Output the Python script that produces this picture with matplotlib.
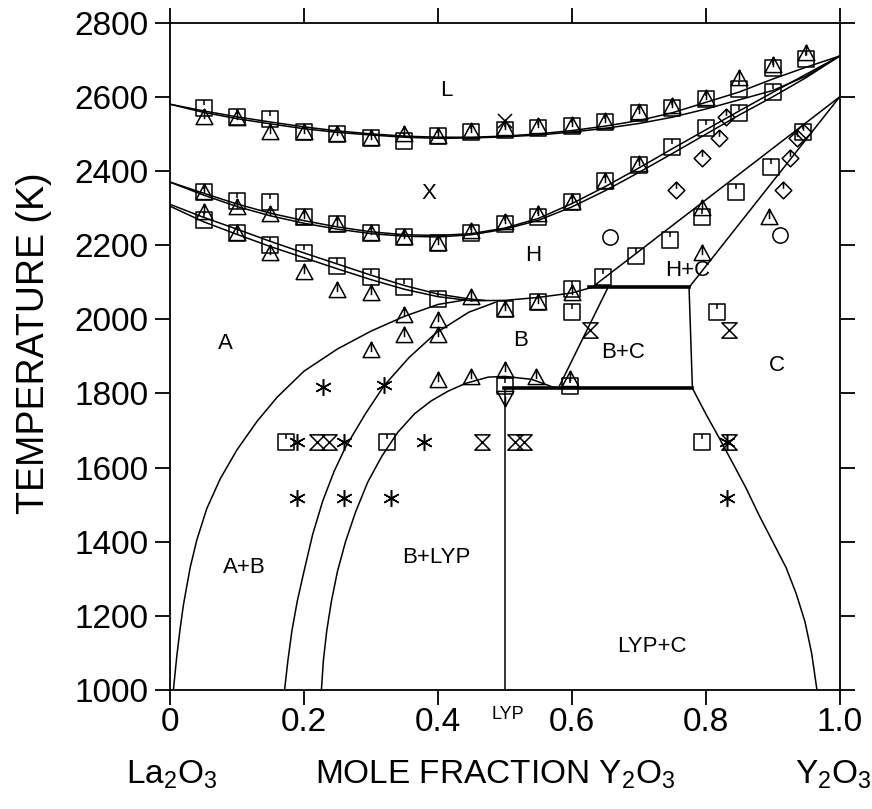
import matplotlib
matplotlib.use("Agg")
import matplotlib.pyplot as plt
from matplotlib.path import Path

plt.rcParams['font.family'] = ['Liberation Sans', 'DejaVu Sans']
plt.rcParams['mathtext.fontset'] = 'custom'
plt.rcParams['mathtext.rm'] = 'Liberation Sans'
plt.rcParams['mathtext.it'] = 'Liberation Sans'
plt.rcParams['mathtext.default'] = 'regular'

# ---- phase boundaries (mole fraction Y2O3, temperature K) ----
liq_up_x = [0, 0.05, 0.1, 0.15, 0.2, 0.25, 0.3, 0.35, 0.4, 0.45, 0.5, 0.55, 0.6, 0.65, 0.7, 0.75, 0.8, 0.85, 0.9, 0.95, 1.0]
liq_up_T = [2580, 2562, 2546, 2532, 2519, 2508, 2500, 2494, 2491, 2491, 2494, 2500, 2509, 2521, 2536, 2557, 2585, 2613, 2648, 2680, 2710]
liq_lo_x = [0, 0.05, 0.1, 0.15, 0.2, 0.25, 0.3, 0.35, 0.4, 0.45, 0.5, 0.55, 0.6, 0.65, 0.7, 0.75, 0.8, 0.85, 0.9, 0.95, 1.0]
liq_lo_T = [2580, 2558, 2541, 2527, 2514, 2504, 2497, 2491, 2488, 2489, 2492, 2497, 2505, 2515, 2528, 2545, 2567, 2592, 2617, 2656, 2710]

xh_up_x = [0, 0.05, 0.1, 0.15, 0.2, 0.25, 0.3, 0.35, 0.4, 0.45, 0.5, 0.55, 0.6, 0.65, 0.7, 0.75, 0.8, 0.85, 0.9, 0.95, 1.0]
xh_up_T = [2370, 2340, 2311, 2286, 2266, 2249, 2236, 2228, 2226, 2231, 2246, 2272, 2312, 2358, 2408, 2460, 2511, 2562, 2612, 2661, 2710]
xh_lo_x = [0, 0.05, 0.1, 0.15, 0.2, 0.25, 0.3, 0.35, 0.4, 0.45, 0.5, 0.55, 0.6, 0.65, 0.7, 0.75, 0.8, 0.85, 0.9, 0.95, 1.0]
xh_lo_T = [2370, 2335, 2304, 2279, 2259, 2243, 2231, 2224, 2222, 2228, 2243, 2267, 2303, 2347, 2396, 2447, 2499, 2551, 2600, 2652, 2710]

ha_up_x = [0, 0.05, 0.1, 0.15, 0.2, 0.25, 0.3, 0.35, 0.4, 0.45, 0.47]
ha_up_T = [2310, 2275, 2243, 2210, 2179, 2149, 2119, 2091, 2068, 2054, 2051]
ha_lo_x = [0, 0.05, 0.1, 0.15, 0.2, 0.25, 0.3, 0.35, 0.4, 0.45]
ha_lo_T = [2305, 2263, 2229, 2196, 2166, 2136, 2107, 2081, 2061, 2050]

hb_x = [0.45, 0.5, 0.55, 0.6, 0.63]
hb_T = [2050, 2051, 2059, 2071, 2086]

hc_left_x = [0.63, 1.0]
hc_left_T = [2086, 2600]
hc_right_x = [0.775, 1.0]
hc_right_T = [2086, 2600]

bc_left_x = [0.654, 0.58]
bc_left_T = [2086, 1815]
bc_right_x = [0.775, 0.78]
bc_right_T = [2086, 1814]

eut_hi_x = [0.625, 0.775]
eut_hi_T = [2086, 2086]
eut_lo_x = [0.498, 0.78]
eut_lo_T = [1814, 1814]

lyp_x = [0.5, 0.5]
lyp_T = [1000, 1814]

a_x = [0.005, 0.01, 0.015, 0.02, 0.03, 0.04, 0.055, 0.075, 0.1, 0.13, 0.16, 0.2, 0.25, 0.3, 0.35, 0.4, 0.44]
a_T = [1000, 1090, 1165, 1230, 1330, 1405, 1490, 1570, 1648, 1725, 1790, 1860, 1920, 1968, 2008, 2040, 2052]

ab_x = [0.171, 0.176, 0.182, 0.19, 0.2, 0.213, 0.228, 0.245, 0.262, 0.292, 0.32, 0.357, 0.397, 0.446, 0.486]
ab_T = [1000, 1080, 1160, 1240, 1320, 1420, 1510, 1590, 1655, 1746, 1822, 1897, 1963, 2019, 2046]

blyp_x = [0.226, 0.229, 0.234, 0.241, 0.25, 0.262, 0.277, 0.295, 0.316, 0.34, 0.365, 0.39, 0.415, 0.441, 0.475, 0.5, 0.54, 0.572, 0.58]
blyp_T = [1000, 1080, 1160, 1240, 1320, 1400, 1480, 1560, 1630, 1695, 1745, 1780, 1806, 1827, 1844, 1846, 1838, 1817, 1815]

c_x = [0.78, 0.8, 0.82, 0.84, 0.86, 0.88, 0.9, 0.92, 0.935, 0.948, 0.958, 0.966]
c_T = [1814, 1745, 1680, 1613, 1545, 1470, 1400, 1330, 1260, 1185, 1100, 1000]

# ---- experimental points ----
sq_x = [0.05, 0.10, 0.15, 0.20, 0.25, 0.30, 0.35, 0.40, 0.45, 0.50, 0.55, 0.60, 0.65, 0.70, 0.75, 0.80, 0.85, 0.90, 0.95, 0.90,
        0.05, 0.10, 0.15, 0.20, 0.25, 0.30, 0.35, 0.40, 0.45, 0.50, 0.55, 0.60, 0.65, 0.70, 0.75, 0.80, 0.85,
        0.05, 0.10, 0.15, 0.20, 0.25, 0.30, 0.35, 0.40, 0.50, 0.55, 0.60, 0.60,
        0.646, 0.696, 0.746, 0.795, 0.845, 0.897, 0.945,
        0.173, 0.324, 0.795, 0.817, 0.50, 0.597]
sq_T = [2571, 2546, 2541, 2504, 2501, 2490, 2482, 2493, 2504, 2510, 2517, 2522, 2531, 2555, 2571, 2595, 2622, 2679, 2703, 2614,
        2342, 2320, 2315, 2275, 2258, 2232, 2222, 2207, 2234, 2258, 2275, 2315, 2374, 2415, 2464, 2517, 2555,
        2267, 2232, 2200, 2178, 2145, 2113, 2086, 2056, 2029, 2046, 2083, 2019,
        2113, 2172, 2213, 2275, 2342, 2410, 2504,
        1668, 1668, 1668, 2019, 1820, 1820]

tri_x = [0.05, 0.10, 0.15, 0.20, 0.25, 0.30, 0.35, 0.40, 0.45, 0.50, 0.55, 0.60, 0.65, 0.70, 0.75, 0.80, 0.85, 0.90, 0.95,
         0.05, 0.10, 0.15, 0.20, 0.25, 0.30, 0.35, 0.40, 0.45, 0.50, 0.55, 0.60, 0.65, 0.70,
         0.05, 0.10, 0.15, 0.20, 0.25, 0.30, 0.45, 0.50, 0.55, 0.60,
         0.35, 0.40, 0.35, 0.40, 0.30, 0.40, 0.45, 0.547, 0.597, 0.50,
         0.795, 0.795, 0.895]
tri_T = [2545, 2544, 2506, 2504, 2501, 2490, 2500, 2493, 2508, 2517, 2520, 2525, 2535, 2558, 2575, 2598, 2652, 2685, 2717,
         2342, 2302, 2285, 2275, 2258, 2232, 2222, 2207, 2238, 2262, 2285, 2315, 2374, 2420,
         2288, 2232, 2178, 2127, 2078, 2070, 2059, 2029, 2046, 2070,
         2011, 1997, 1957, 1957, 1916, 1835, 1844, 1844, 1840, 1862,
         2300, 2178, 2275]

tri_dn_x = [0.50]
tri_dn_T = [1788]

ast_x = [0.228, 0.32, 0.19, 0.26, 0.379, 0.832, 0.19, 0.26, 0.33, 0.832]
ast_T = [1817, 1822, 1668, 1668, 1668, 1668, 1518, 1518, 1518, 1518]

hg_x = [0.22, 0.238, 0.466, 0.515, 0.528, 0.627, 0.835, 0.835]
hg_T = [1668, 1668, 1668, 1668, 1668, 1970, 1970, 1668]

dia_x = [0.755, 0.795, 0.82, 0.83, 0.916, 0.926, 0.936, 0.945]
dia_T = [2348, 2434, 2490, 2545, 2348, 2434, 2490, 2504]

circ_x = [0.657, 0.911]
circ_T = [2221, 2226]

xmark_x = [0.50]
xmark_T = [2536]

# ---- marker shapes ----
M, L, C = Path.MOVETO, Path.LINETO, Path.CLOSEPOLY
sq_mark = Path([(-1, -1), (1, -1), (1, 1), (-1, 1), (-1, -1), (0, 1), (0, 0.35)], [M, L, L, L, C, M, L])
tri_mark = Path([(0, 1), (-1, -0.85), (1, -0.85), (0, 1), (0, 1), (0, -0.2)], [M, L, L, C, M, L])
tri_dn_mark = Path([(0, -1), (-1, 0.85), (1, 0.85), (0, -1), (0, -1), (0, 0.2)], [M, L, L, C, M, L])
hg_mark = Path([(-1, 1), (1, 1), (-1, -1), (1, -1), (-1, 1)], [M, L, L, L, C])
dia_mark = Path([(0, 1), (1, 0), (0, -1), (-1, 0), (0, 1), (0, 1), (0, 0.2)], [M, L, L, L, C, M, L])

fig = plt.figure(figsize=(8.72, 8.09), dpi=100)
ax = fig.add_axes([0.195, 0.147, 0.768, 0.825])

lw = 1.1
for xs, ts in [(liq_up_x, liq_up_T), (liq_lo_x, liq_lo_T), (xh_up_x, xh_up_T), (xh_lo_x, xh_lo_T),
               (ha_up_x, ha_up_T), (ha_lo_x, ha_lo_T), (hb_x, hb_T), (hc_left_x, hc_left_T),
               (hc_right_x, hc_right_T), (bc_left_x, bc_left_T), (bc_right_x, bc_right_T),
               (lyp_x, lyp_T), (a_x, a_T), (ab_x, ab_T), (blyp_x, blyp_T), (c_x, c_T)]:
    ax.plot(xs, ts, color='black', lw=lw)
ax.plot(eut_hi_x, eut_hi_T, color='black', lw=2.6)
ax.plot(eut_lo_x, eut_lo_T, color='black', lw=2.6)

mk = dict(linestyle='none', markerfacecolor='none', markeredgecolor='black', markeredgewidth=1.1)
ax.plot(sq_x, sq_T, marker=sq_mark, markersize=12, **mk)
ax.plot(tri_x, tri_T, marker=tri_mark, markersize=12, **mk)
ax.plot(tri_dn_x, tri_dn_T, marker=tri_dn_mark, markersize=12, **mk)
ax.plot(ast_x, ast_T, marker=(6, 2, 0), markersize=12, **mk)
ax.plot(hg_x, hg_T, marker=hg_mark, markersize=11, **mk)
ax.plot(dia_x, dia_T, marker=dia_mark, markersize=12, **mk)
ax.plot(circ_x, circ_T, marker='o', markersize=11, **mk)
ax.plot(xmark_x, xmark_T, marker='x', markersize=10, **mk)

# region labels
fs = 16
labels = [('L', 0.413, 2617), ('X', 0.386, 2339), ('H', 0.542, 2172), ('H+C', 0.773, 2132),
          ('A', 0.082, 1935), ('B', 0.523, 1943), ('B+C', 0.676, 1911), ('C', 0.906, 1876),
          ('A+B', 0.111, 1331), ('B+LYP', 0.397, 1358), ('LYP+C', 0.72, 1118)]
for txt, x, t in labels:
    ax.text(x, t, txt, fontsize=fs, ha='center', va='center')

ax.set_xlim(0, 1.0)
ax.set_ylim(1000, 2800)
ax.set_xticks([0, 0.2, 0.4, 0.6, 0.8, 1.0])
ax.set_xticklabels(['0', '0.2', '0.4', '0.6', '0.8', '1.0'])
ax.set_yticks(range(1000, 2801, 200))
ax.tick_params(direction='out', length=10.5, width=1.3, labelsize=24,
               top=True, right=True, labeltop=False, labelright=False)
ax.tick_params(axis='x', pad=2)
ax.tick_params(axis='y', pad=5)
for s in ax.spines.values():
    s.set_linewidth(1.3)

ax.set_ylabel('TEMPERATURE (K)', fontsize=27)
ax.yaxis.set_label_coords(-0.176, 0.52)
ax.text(0.505, -0.037, 'LYP', transform=ax.get_xaxis_transform(), fontsize=13, ha='center', va='center')
ax.text(0.485, -0.127, r'MOLE FRACTION Y$_2$O$_3$', transform=ax.transAxes, fontsize=24, ha='center', va='center')
ax.text(0.003, -0.127, r'La$_2$O$_3$', transform=ax.transAxes, fontsize=24, ha='center', va='center')
ax.text(0.99, -0.127, r'Y$_2$O$_3$', transform=ax.transAxes, fontsize=24, ha='center', va='center')

fig.savefig('out.png', dpi=100)
